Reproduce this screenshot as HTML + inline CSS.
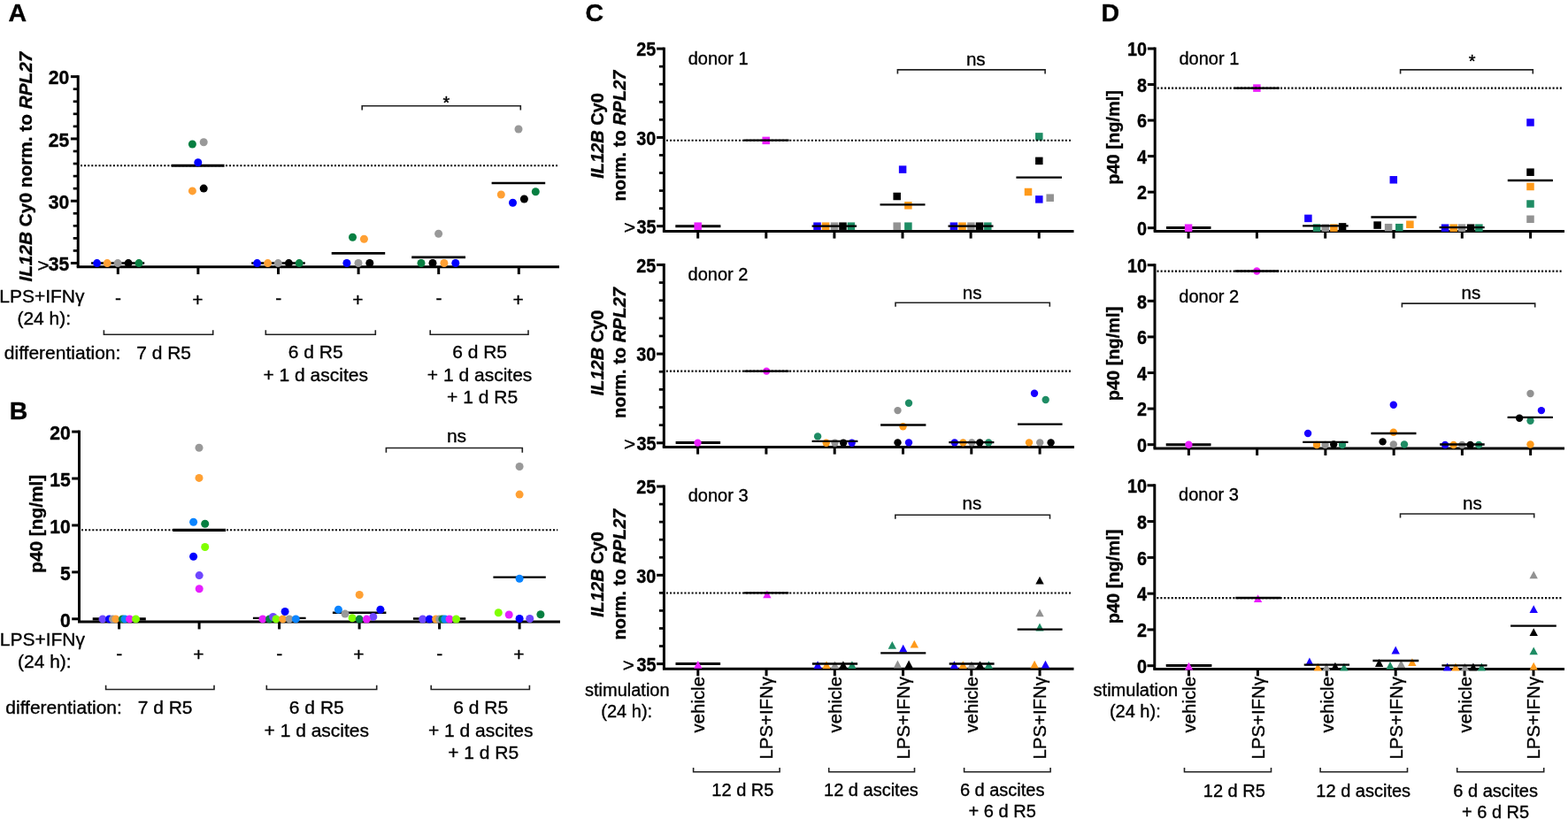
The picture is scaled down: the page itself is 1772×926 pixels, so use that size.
<!DOCTYPE html>
<html><head><meta charset="utf-8"><title>Figure</title>
<style>
html,body{margin:0;padding:0;background:#fff;}
body{width:1772px;height:926px;overflow:hidden;}
svg{display:block;font-family:"Liberation Sans", Arial, Helvetica, sans-serif;}
text{stroke:#000;stroke-width:0.35px;stroke-linejoin:round;}
</style></head>
<body>
<svg width="1772" height="926" viewBox="0 0 1772 926">
<rect width="1772" height="926" fill="#fff"/>
<text x="9.6" y="23.8" font-size="28.5" font-weight="bold">A</text>
<text x="10.8" y="474.2" font-size="28.5" font-weight="bold">B</text>
<text x="661.5" y="23.8" font-size="28.5" font-weight="bold">C</text>
<text x="1244.5" y="23.8" font-size="28.5" font-weight="bold">D</text>
<line x1="91" y1="187.3" x2="630" y2="187.3" stroke="#000" stroke-width="2.1" stroke-linecap="butt" stroke-dasharray="2 2.1"/>
<line x1="88.2" y1="85.15" x2="88.2" y2="301.7" stroke="#000" stroke-width="3" stroke-linecap="butt"/>
<line x1="79.9" y1="86.65" x2="88.2" y2="86.65" stroke="#000" stroke-width="3" stroke-linecap="butt"/>
<text font-size="20.5" transform="translate(78.3 95.35) scale(1.03 1.11)" font-weight="bold" text-anchor="end">20</text>
<line x1="79.9" y1="156.94" x2="88.2" y2="156.94" stroke="#000" stroke-width="3" stroke-linecap="butt"/>
<text font-size="20.5" transform="translate(78.3 165.63) scale(1.03 1.11)" font-weight="bold" text-anchor="end">25</text>
<line x1="79.9" y1="227.22" x2="88.2" y2="227.22" stroke="#000" stroke-width="3" stroke-linecap="butt"/>
<text font-size="20.5" transform="translate(78.3 235.92) scale(1.03 1.11)" font-weight="bold" text-anchor="end">30</text>
<line x1="79.9" y1="297.5" x2="88.2" y2="297.5" stroke="#000" stroke-width="3" stroke-linecap="butt"/>
<line x1="82.7" y1="100.71" x2="88.2" y2="100.71" stroke="#000" stroke-width="2.7" stroke-linecap="butt"/>
<line x1="82.7" y1="114.76" x2="88.2" y2="114.76" stroke="#000" stroke-width="2.7" stroke-linecap="butt"/>
<line x1="82.7" y1="128.82" x2="88.2" y2="128.82" stroke="#000" stroke-width="2.7" stroke-linecap="butt"/>
<line x1="82.7" y1="142.88" x2="88.2" y2="142.88" stroke="#000" stroke-width="2.7" stroke-linecap="butt"/>
<line x1="82.7" y1="170.99" x2="88.2" y2="170.99" stroke="#000" stroke-width="2.7" stroke-linecap="butt"/>
<line x1="82.7" y1="185.05" x2="88.2" y2="185.05" stroke="#000" stroke-width="2.7" stroke-linecap="butt"/>
<line x1="82.7" y1="199.11" x2="88.2" y2="199.11" stroke="#000" stroke-width="2.7" stroke-linecap="butt"/>
<line x1="82.7" y1="213.16" x2="88.2" y2="213.16" stroke="#000" stroke-width="2.7" stroke-linecap="butt"/>
<line x1="82.7" y1="241.28" x2="88.2" y2="241.28" stroke="#000" stroke-width="2.7" stroke-linecap="butt"/>
<line x1="82.7" y1="255.33" x2="88.2" y2="255.33" stroke="#000" stroke-width="2.7" stroke-linecap="butt"/>
<line x1="82.7" y1="269.39" x2="88.2" y2="269.39" stroke="#000" stroke-width="2.7" stroke-linecap="butt"/>
<line x1="82.7" y1="283.45" x2="88.2" y2="283.45" stroke="#000" stroke-width="2.7" stroke-linecap="butt"/>
<text font-size="20.5" transform="translate(78.3 306.2) scale(1.03 1.11)" font-weight="bold" text-anchor="end">35</text>
<text font-size="20.5" transform="translate(55.6 306.81) scale(1.12 1)" text-anchor="end">&gt;</text>
<line x1="86.7" y1="301.7" x2="632" y2="301.7" stroke="#000" stroke-width="3" stroke-linecap="butt"/>
<line x1="133.3" y1="301.7" x2="133.3" y2="310.1" stroke="#000" stroke-width="3" stroke-linecap="butt"/>
<line x1="223.9" y1="301.7" x2="223.9" y2="310.1" stroke="#000" stroke-width="3" stroke-linecap="butt"/>
<line x1="314.5" y1="301.7" x2="314.5" y2="310.1" stroke="#000" stroke-width="3" stroke-linecap="butt"/>
<line x1="405.1" y1="301.7" x2="405.1" y2="310.1" stroke="#000" stroke-width="3" stroke-linecap="butt"/>
<line x1="495.7" y1="301.7" x2="495.7" y2="310.1" stroke="#000" stroke-width="3" stroke-linecap="butt"/>
<line x1="586.3" y1="301.7" x2="586.3" y2="310.1" stroke="#000" stroke-width="3" stroke-linecap="butt"/>
<line x1="103.1" y1="297.5" x2="163.2" y2="297.5" stroke="#000" stroke-width="2.4" stroke-linecap="butt"/>
<circle cx="109.6" cy="297.6" r="4.5" fill="#0000ff"/>
<circle cx="121.2" cy="297.6" r="4.5" fill="#ffa033"/>
<circle cx="133.1" cy="297.6" r="4.5" fill="#999999"/>
<circle cx="145.1" cy="297.6" r="4.5" fill="#000000"/>
<circle cx="157" cy="297.6" r="4.5" fill="#067f41"/>
<line x1="193.7" y1="187.2" x2="253.6" y2="187.2" stroke="#000" stroke-width="3" stroke-linecap="butt"/>
<circle cx="217.4" cy="163" r="4.5" fill="#067f41"/>
<circle cx="230.2" cy="160.8" r="4.5" fill="#999999"/>
<circle cx="223.8" cy="183.8" r="4.5" fill="#0000ff"/>
<circle cx="217.4" cy="215.9" r="4.5" fill="#ffa033"/>
<circle cx="230.2" cy="213.1" r="4.5" fill="#000000"/>
<line x1="284.2" y1="297.5" x2="344.8" y2="297.5" stroke="#000" stroke-width="2.4" stroke-linecap="butt"/>
<circle cx="290.6" cy="297.6" r="4.5" fill="#0000ff"/>
<circle cx="302.6" cy="297.6" r="4.5" fill="#ffa033"/>
<circle cx="314.3" cy="297.6" r="4.5" fill="#999999"/>
<circle cx="326.4" cy="297.6" r="4.5" fill="#000000"/>
<circle cx="338.2" cy="297.6" r="4.5" fill="#067f41"/>
<line x1="374.7" y1="286.4" x2="435.2" y2="286.4" stroke="#000" stroke-width="2.6" stroke-linecap="butt"/>
<circle cx="398.5" cy="268.3" r="4.5" fill="#067f41"/>
<circle cx="411.4" cy="270.3" r="4.5" fill="#ffa033"/>
<circle cx="391.9" cy="297.5" r="4.5" fill="#0000ff"/>
<circle cx="405" cy="297.5" r="4.5" fill="#999999"/>
<circle cx="417.8" cy="297.5" r="4.5" fill="#000000"/>
<line x1="465.2" y1="290.9" x2="526" y2="290.9" stroke="#000" stroke-width="2.6" stroke-linecap="butt"/>
<circle cx="495.6" cy="264.2" r="4.5" fill="#999999"/>
<circle cx="476" cy="297.5" r="4.5" fill="#067f41"/>
<circle cx="489" cy="297.5" r="4.5" fill="#000000"/>
<circle cx="501.9" cy="297.5" r="4.5" fill="#ffa033"/>
<circle cx="514.8" cy="297.5" r="4.5" fill="#0000ff"/>
<line x1="555.6" y1="207" x2="616.2" y2="207" stroke="#000" stroke-width="2.6" stroke-linecap="butt"/>
<circle cx="586" cy="146" r="4.5" fill="#999999"/>
<circle cx="566.3" cy="220" r="4.5" fill="#ffa033"/>
<circle cx="579.5" cy="229.3" r="4.5" fill="#0000ff"/>
<circle cx="592.4" cy="225" r="4.5" fill="#000000"/>
<circle cx="605.3" cy="216.8" r="4.5" fill="#067f41"/>
<text font-size="20.8" transform="translate(36 188.6) rotate(-90)" font-weight="bold" text-anchor="middle"><tspan font-style="italic">IL12B</tspan> Cy0 norm. to <tspan font-style="italic">RPL27</tspan></text>
<polyline points="409.2,124.5 409.2,119.7 588.3,119.7 588.3,124.5" fill="none" stroke="#222" stroke-width="1.6"/>
<text x="504.4" y="123.2" font-size="20" text-anchor="middle">*</text>
<text x="-0.8" y="341.6" font-size="21" >LPS+IFNγ</text>
<text x="19.4" y="366.9" font-size="21" >(24 h):</text>
<text x="133.5" y="343.9" font-size="21" text-anchor="middle">-</text>
<text x="223.3" y="345.9" font-size="21" text-anchor="middle">+</text>
<text x="314.7" y="343.9" font-size="21" text-anchor="middle">-</text>
<text x="404.5" y="345.9" font-size="21" text-anchor="middle">+</text>
<text x="495.9" y="343.9" font-size="21" text-anchor="middle">-</text>
<text x="585.7" y="345.9" font-size="21" text-anchor="middle">+</text>
<polyline points="117.4,373.3 117.4,378.3 240.7,378.3 240.7,373.3" fill="none" stroke="#222" stroke-width="1.6"/>
<polyline points="300.3,373.3 300.3,378.3 424.3,378.3 424.3,373.3" fill="none" stroke="#222" stroke-width="1.6"/>
<polyline points="486.2,373.3 486.2,378.3 597,378.3 597,373.3" fill="none" stroke="#222" stroke-width="1.6"/>
<text x="4.8" y="405.6" font-size="21" >differentiation:</text>
<text x="185.1" y="405.6" font-size="21" text-anchor="middle">7 d R5</text>
<text x="356.7" y="405.4" font-size="21" text-anchor="middle">6 d R5</text>
<text x="356.7" y="431" font-size="21" text-anchor="middle">+ 1 d ascites</text>
<text x="542.1" y="405.4" font-size="21" text-anchor="middle">6 d R5</text>
<text x="542.1" y="431" font-size="21" text-anchor="middle">+ 1 d ascites</text>
<text x="545.1" y="456.4" font-size="21" text-anchor="middle">+ 1 d R5</text>
<line x1="92" y1="599.2" x2="630.3" y2="599.2" stroke="#000" stroke-width="2.1" stroke-linecap="butt" stroke-dasharray="2 2.1"/>
<line x1="89.5" y1="486.6" x2="89.5" y2="703" stroke="#000" stroke-width="3" stroke-linecap="butt"/>
<line x1="81.2" y1="488.1" x2="89.5" y2="488.1" stroke="#000" stroke-width="3" stroke-linecap="butt"/>
<text font-size="20.5" transform="translate(79.8 496.8) scale(1.03 1.11)" font-weight="bold" text-anchor="end">20</text>
<line x1="81.2" y1="541.02" x2="89.5" y2="541.02" stroke="#000" stroke-width="3" stroke-linecap="butt"/>
<text font-size="20.5" transform="translate(79.8 549.73) scale(1.03 1.11)" font-weight="bold" text-anchor="end">15</text>
<line x1="81.2" y1="593.95" x2="89.5" y2="593.95" stroke="#000" stroke-width="3" stroke-linecap="butt"/>
<text font-size="20.5" transform="translate(79.8 602.65) scale(1.03 1.11)" font-weight="bold" text-anchor="end">10</text>
<line x1="81.2" y1="646.88" x2="89.5" y2="646.88" stroke="#000" stroke-width="3" stroke-linecap="butt"/>
<text font-size="20.5" transform="translate(79.8 655.58) scale(1.03 1.11)" font-weight="bold" text-anchor="end">5</text>
<line x1="81.2" y1="699.8" x2="89.5" y2="699.8" stroke="#000" stroke-width="3" stroke-linecap="butt"/>
<text font-size="20.5" transform="translate(79.8 708.5) scale(1.03 1.11)" font-weight="bold" text-anchor="end">0</text>
<line x1="88" y1="703" x2="633" y2="703" stroke="#000" stroke-width="3" stroke-linecap="butt"/>
<line x1="134.6" y1="703" x2="134.6" y2="711.4" stroke="#000" stroke-width="3" stroke-linecap="butt"/>
<line x1="225.1" y1="703" x2="225.1" y2="711.4" stroke="#000" stroke-width="3" stroke-linecap="butt"/>
<line x1="315.6" y1="703" x2="315.6" y2="711.4" stroke="#000" stroke-width="3" stroke-linecap="butt"/>
<line x1="406.1" y1="703" x2="406.1" y2="711.4" stroke="#000" stroke-width="3" stroke-linecap="butt"/>
<line x1="496.6" y1="703" x2="496.6" y2="711.4" stroke="#000" stroke-width="3" stroke-linecap="butt"/>
<line x1="587.1" y1="703" x2="587.1" y2="711.4" stroke="#000" stroke-width="3" stroke-linecap="butt"/>
<line x1="104.7" y1="699.9" x2="164.8" y2="699.9" stroke="#000" stroke-width="3.2" stroke-linecap="butt"/>
<circle cx="116" cy="699.9" r="4.5" fill="#6e46ff"/>
<circle cx="123.5" cy="699.9" r="4.5" fill="#0000ff"/>
<circle cx="127.4" cy="699.9" r="4.5" fill="#999999"/>
<circle cx="130.8" cy="699.9" r="4.5" fill="#ffa033"/>
<circle cx="138.4" cy="699.9" r="4.5" fill="#067f41"/>
<circle cx="141.1" cy="699.9" r="4.5" fill="#0a84ff"/>
<circle cx="146.5" cy="699.9" r="4.5" fill="#e61eff"/>
<circle cx="153.5" cy="699.9" r="4.5" fill="#80ff00"/>
<line x1="195.3" y1="599.3" x2="255.1" y2="599.3" stroke="#000" stroke-width="3.2" stroke-linecap="butt"/>
<circle cx="225" cy="506.3" r="4.5" fill="#999999"/>
<circle cx="225" cy="540.4" r="4.5" fill="#ffa033"/>
<circle cx="218.6" cy="590.3" r="4.5" fill="#0a84ff"/>
<circle cx="231.7" cy="592.3" r="4.5" fill="#067f41"/>
<circle cx="231.7" cy="618.5" r="4.5" fill="#80ff00"/>
<circle cx="218.6" cy="629.2" r="4.5" fill="#0000ff"/>
<circle cx="225.2" cy="650.6" r="4.5" fill="#6e46ff"/>
<circle cx="225.2" cy="665.8" r="4.5" fill="#e61eff"/>
<line x1="285.9" y1="698.9" x2="345.6" y2="698.9" stroke="#000" stroke-width="2.4" stroke-linecap="butt"/>
<circle cx="296.9" cy="699.9" r="4.5" fill="#e61eff"/>
<circle cx="304.5" cy="699.9" r="4.5" fill="#067f41"/>
<circle cx="308.6" cy="697.5" r="4.5" fill="#6e46ff"/>
<circle cx="312" cy="699.9" r="4.5" fill="#80ff00"/>
<circle cx="319.6" cy="699.9" r="4.5" fill="#ffa033"/>
<circle cx="327" cy="699.9" r="4.5" fill="#999999"/>
<circle cx="334.3" cy="699.9" r="4.5" fill="#0a84ff"/>
<circle cx="322.1" cy="691.5" r="4.5" fill="#0000ff"/>
<line x1="375.9" y1="692.8" x2="436.4" y2="692.8" stroke="#000" stroke-width="2.4" stroke-linecap="butt"/>
<circle cx="406.2" cy="672.5" r="4.5" fill="#ffa033"/>
<circle cx="382.4" cy="689.3" r="4.5" fill="#0a84ff"/>
<circle cx="390" cy="694.1" r="4.5" fill="#999999"/>
<circle cx="429.9" cy="689.3" r="4.5" fill="#0000ff"/>
<circle cx="421.8" cy="697.4" r="4.5" fill="#6e46ff"/>
<circle cx="398.1" cy="698.7" r="4.5" fill="#80ff00"/>
<circle cx="406.2" cy="700.1" r="4.5" fill="#067f41"/>
<circle cx="414.3" cy="700.1" r="4.5" fill="#e61eff"/>
<line x1="466.9" y1="699.5" x2="526.3" y2="699.5" stroke="#000" stroke-width="2.4" stroke-linecap="butt"/>
<circle cx="477.7" cy="700" r="4.5" fill="#6e46ff"/>
<circle cx="485.3" cy="700" r="4.5" fill="#0000ff"/>
<circle cx="492.6" cy="700" r="4.5" fill="#ffa033"/>
<circle cx="496.6" cy="700" r="4.5" fill="#999999"/>
<circle cx="499.9" cy="700" r="4.5" fill="#067f41"/>
<circle cx="502.8" cy="700" r="4.5" fill="#0a84ff"/>
<circle cx="508" cy="700" r="4.5" fill="#e61eff"/>
<circle cx="515.5" cy="700" r="4.5" fill="#80ff00"/>
<line x1="557.4" y1="652.6" x2="616.8" y2="652.6" stroke="#000" stroke-width="2.4" stroke-linecap="butt"/>
<circle cx="587.1" cy="527.5" r="4.5" fill="#999999"/>
<circle cx="587.1" cy="559.1" r="4.5" fill="#ffa033"/>
<circle cx="587.1" cy="654.2" r="4.5" fill="#0a84ff"/>
<circle cx="563.3" cy="692.8" r="4.5" fill="#80ff00"/>
<circle cx="575.2" cy="695" r="4.5" fill="#e61eff"/>
<circle cx="587.1" cy="699.5" r="4.5" fill="#0000ff"/>
<circle cx="598.7" cy="699.5" r="4.5" fill="#6e46ff"/>
<circle cx="610.9" cy="694.7" r="4.5" fill="#067f41"/>
<text font-size="20.8" transform="translate(47.5 592.3) rotate(-90)" font-weight="bold" text-anchor="middle">p40 [ng/ml]</text>
<polyline points="436.4,511.7 436.4,506.5 590.3,506.5 590.3,511.7" fill="none" stroke="#222" stroke-width="1.6"/>
<text x="516" y="499.7" font-size="21" text-anchor="middle">ns</text>
<text x="-0.3" y="729.5" font-size="21" >LPS+IFNγ</text>
<text x="20" y="754.8" font-size="21" >(24 h):</text>
<text x="134.8" y="745.8" font-size="21" text-anchor="middle">-</text>
<text x="224.5" y="747.4" font-size="21" text-anchor="middle">+</text>
<text x="315.8" y="745.8" font-size="21" text-anchor="middle">-</text>
<text x="405.5" y="747.4" font-size="21" text-anchor="middle">+</text>
<text x="496.8" y="745.8" font-size="21" text-anchor="middle">-</text>
<text x="586.5" y="747.4" font-size="21" text-anchor="middle">+</text>
<polyline points="119.6,774.7 119.6,779.5 242,779.5 242,774.7" fill="none" stroke="#222" stroke-width="1.6"/>
<polyline points="301.3,774.7 301.3,779.5 425.7,779.5 425.7,774.7" fill="none" stroke="#222" stroke-width="1.6"/>
<polyline points="487.2,774.7 487.2,779.5 598.4,779.5 598.4,774.7" fill="none" stroke="#222" stroke-width="1.6"/>
<text x="6.3" y="806.5" font-size="21" >differentiation:</text>
<text x="186.6" y="806.5" font-size="21" text-anchor="middle">7 d R5</text>
<text x="357.8" y="806.7" font-size="21" text-anchor="middle">6 d R5</text>
<text x="357.8" y="832.5" font-size="21" text-anchor="middle">+ 1 d ascites</text>
<text x="543.2" y="806.7" font-size="21" text-anchor="middle">6 d R5</text>
<text x="543.2" y="832.5" font-size="21" text-anchor="middle">+ 1 d ascites</text>
<text x="546.2" y="857.5" font-size="21" text-anchor="middle">+ 1 d R5</text>
<line x1="750.4" y1="53.6" x2="750.4" y2="261.6" stroke="#000" stroke-width="3" stroke-linecap="butt"/>
<line x1="742.1" y1="55.1" x2="750.4" y2="55.1" stroke="#000" stroke-width="3" stroke-linecap="butt"/>
<text font-size="20" transform="translate(741.2 63.4) scale(0.99 1.08)" font-weight="bold" text-anchor="end">25</text>
<line x1="742.1" y1="155.4" x2="750.4" y2="155.4" stroke="#000" stroke-width="3" stroke-linecap="butt"/>
<text font-size="20" transform="translate(741.2 163.7) scale(0.99 1.08)" font-weight="bold" text-anchor="end">30</text>
<line x1="742.1" y1="255.7" x2="750.4" y2="255.7" stroke="#000" stroke-width="3" stroke-linecap="butt"/>
<line x1="744.9" y1="75.16" x2="750.4" y2="75.16" stroke="#000" stroke-width="2.7" stroke-linecap="butt"/>
<line x1="744.9" y1="95.22" x2="750.4" y2="95.22" stroke="#000" stroke-width="2.7" stroke-linecap="butt"/>
<line x1="744.9" y1="115.28" x2="750.4" y2="115.28" stroke="#000" stroke-width="2.7" stroke-linecap="butt"/>
<line x1="744.9" y1="135.34" x2="750.4" y2="135.34" stroke="#000" stroke-width="2.7" stroke-linecap="butt"/>
<line x1="744.9" y1="175.46" x2="750.4" y2="175.46" stroke="#000" stroke-width="2.7" stroke-linecap="butt"/>
<line x1="744.9" y1="195.52" x2="750.4" y2="195.52" stroke="#000" stroke-width="2.7" stroke-linecap="butt"/>
<line x1="744.9" y1="215.58" x2="750.4" y2="215.58" stroke="#000" stroke-width="2.7" stroke-linecap="butt"/>
<line x1="744.9" y1="235.64" x2="750.4" y2="235.64" stroke="#000" stroke-width="2.7" stroke-linecap="butt"/>
<line x1="748.9" y1="261.6" x2="1213.5" y2="261.6" stroke="#000" stroke-width="3" stroke-linecap="butt"/>
<line x1="788.7" y1="261.6" x2="788.7" y2="269.6" stroke="#000" stroke-width="3" stroke-linecap="butt"/>
<line x1="865.8" y1="261.6" x2="865.8" y2="269.6" stroke="#000" stroke-width="3" stroke-linecap="butt"/>
<line x1="942.9" y1="261.6" x2="942.9" y2="269.6" stroke="#000" stroke-width="3" stroke-linecap="butt"/>
<line x1="1020" y1="261.6" x2="1020" y2="269.6" stroke="#000" stroke-width="3" stroke-linecap="butt"/>
<line x1="1097.1" y1="261.6" x2="1097.1" y2="269.6" stroke="#000" stroke-width="3" stroke-linecap="butt"/>
<line x1="1174.2" y1="261.6" x2="1174.2" y2="269.6" stroke="#000" stroke-width="3" stroke-linecap="butt"/>
<rect x="861.45" y="154.65" width="8.5" height="8.5" fill="#ea1eff"/>
<rect x="919.25" y="251.45" width="8.5" height="8.5" fill="#1a00ff"/>
<rect x="928.85" y="251.45" width="8.5" height="8.5" fill="#ff9a1a"/>
<rect x="938.75" y="251.45" width="8.5" height="8.5" fill="#929292"/>
<rect x="948.25" y="251.45" width="8.5" height="8.5" fill="#000000"/>
<rect x="957.65" y="251.45" width="8.5" height="8.5" fill="#1e8c64"/>
<rect x="1015.85" y="187.35" width="8.5" height="8.5" fill="#1a00ff"/>
<rect x="1009.45" y="217.75" width="8.5" height="8.5" fill="#000000"/>
<rect x="1022.15" y="228.05" width="8.5" height="8.5" fill="#ff9a1a"/>
<rect x="1009.45" y="251.45" width="8.5" height="8.5" fill="#929292"/>
<rect x="1022.15" y="251.45" width="8.5" height="8.5" fill="#1e8c64"/>
<rect x="1073.65" y="251.45" width="8.5" height="8.5" fill="#1a00ff"/>
<rect x="1083.25" y="251.45" width="8.5" height="8.5" fill="#ff9a1a"/>
<rect x="1093.15" y="251.45" width="8.5" height="8.5" fill="#929292"/>
<rect x="1102.75" y="251.45" width="8.5" height="8.5" fill="#000000"/>
<rect x="1112.05" y="251.45" width="8.5" height="8.5" fill="#1e8c64"/>
<rect x="1170.05" y="150.15" width="8.5" height="8.5" fill="#1e8c64"/>
<rect x="1170.05" y="177.65" width="8.5" height="8.5" fill="#000000"/>
<rect x="1157.75" y="212.75" width="8.5" height="8.5" fill="#ff9a1a"/>
<rect x="1170.05" y="221.15" width="8.5" height="8.5" fill="#1a00ff"/>
<rect x="1182.45" y="219.45" width="8.5" height="8.5" fill="#929292"/>
<line x1="752.9" y1="158.8" x2="1211.5" y2="158.8" stroke="#000" stroke-width="2.1" stroke-linecap="butt" stroke-dasharray="2 2.1"/>
<line x1="763.3" y1="255.7" x2="814.4" y2="255.7" stroke="#000" stroke-width="3" stroke-linecap="butt"/>
<line x1="840.6" y1="158.7" x2="891.6" y2="158.7" stroke="#000" stroke-width="2.3" stroke-linecap="butt"/>
<line x1="917.6" y1="255.7" x2="968.1" y2="255.7" stroke="#000" stroke-width="2.3" stroke-linecap="butt"/>
<line x1="994.5" y1="231.3" x2="1045.5" y2="231.3" stroke="#000" stroke-width="2.3" stroke-linecap="butt"/>
<line x1="1071.5" y1="255.7" x2="1122.5" y2="255.7" stroke="#000" stroke-width="2.3" stroke-linecap="butt"/>
<line x1="1148.4" y1="200.7" x2="1200" y2="200.7" stroke="#000" stroke-width="2.3" stroke-linecap="butt"/>
<rect x="784.45" y="251.45" width="8.5" height="8.5" fill="#ea1eff"/>
<text x="777.7" y="72.5" font-size="20" >donor 1</text>
<polyline points="1014.4,83.4 1014.4,78.9 1181.1,78.9 1181.1,83.4" fill="none" stroke="#222" stroke-width="1.6"/>
<text x="1102.8" y="74.2" font-size="20.6" text-anchor="middle">ns</text>
<text font-size="20" transform="translate(741.6 264) scale(0.99 1.08)" font-weight="bold" text-anchor="end">35</text>
<text font-size="20" transform="translate(718.3 263.6) scale(1.13 1)" text-anchor="end">&gt;</text>
<line x1="750.3" y1="297.9" x2="750.3" y2="505.6" stroke="#000" stroke-width="3" stroke-linecap="butt"/>
<line x1="742" y1="299.4" x2="750.3" y2="299.4" stroke="#000" stroke-width="3" stroke-linecap="butt"/>
<text font-size="20" transform="translate(741.2 307.7) scale(0.99 1.08)" font-weight="bold" text-anchor="end">25</text>
<line x1="742" y1="400.1" x2="750.3" y2="400.1" stroke="#000" stroke-width="3" stroke-linecap="butt"/>
<text font-size="20" transform="translate(741.2 408.4) scale(0.99 1.08)" font-weight="bold" text-anchor="end">30</text>
<line x1="742" y1="500.8" x2="750.3" y2="500.8" stroke="#000" stroke-width="3" stroke-linecap="butt"/>
<line x1="744.8" y1="319.54" x2="750.3" y2="319.54" stroke="#000" stroke-width="2.7" stroke-linecap="butt"/>
<line x1="744.8" y1="339.68" x2="750.3" y2="339.68" stroke="#000" stroke-width="2.7" stroke-linecap="butt"/>
<line x1="744.8" y1="359.82" x2="750.3" y2="359.82" stroke="#000" stroke-width="2.7" stroke-linecap="butt"/>
<line x1="744.8" y1="379.96" x2="750.3" y2="379.96" stroke="#000" stroke-width="2.7" stroke-linecap="butt"/>
<line x1="744.8" y1="420.24" x2="750.3" y2="420.24" stroke="#000" stroke-width="2.7" stroke-linecap="butt"/>
<line x1="744.8" y1="440.38" x2="750.3" y2="440.38" stroke="#000" stroke-width="2.7" stroke-linecap="butt"/>
<line x1="744.8" y1="460.52" x2="750.3" y2="460.52" stroke="#000" stroke-width="2.7" stroke-linecap="butt"/>
<line x1="744.8" y1="480.66" x2="750.3" y2="480.66" stroke="#000" stroke-width="2.7" stroke-linecap="butt"/>
<line x1="748.8" y1="505.6" x2="1214" y2="505.6" stroke="#000" stroke-width="3" stroke-linecap="butt"/>
<line x1="788.6" y1="505.6" x2="788.6" y2="513.6" stroke="#000" stroke-width="3" stroke-linecap="butt"/>
<line x1="865.9" y1="505.6" x2="865.9" y2="513.6" stroke="#000" stroke-width="3" stroke-linecap="butt"/>
<line x1="943.2" y1="505.6" x2="943.2" y2="513.6" stroke="#000" stroke-width="3" stroke-linecap="butt"/>
<line x1="1020.5" y1="505.6" x2="1020.5" y2="513.6" stroke="#000" stroke-width="3" stroke-linecap="butt"/>
<line x1="1097.8" y1="505.6" x2="1097.8" y2="513.6" stroke="#000" stroke-width="3" stroke-linecap="butt"/>
<line x1="1175.1" y1="505.6" x2="1175.1" y2="513.6" stroke="#000" stroke-width="3" stroke-linecap="butt"/>
<circle cx="866.2" cy="419.6" r="4.2" fill="#ea1eff"/>
<circle cx="924.1" cy="493.4" r="4.2" fill="#1e8c64"/>
<circle cx="933.7" cy="500.7" r="4.2" fill="#ff9a1a"/>
<circle cx="943.5" cy="500.7" r="4.2" fill="#929292"/>
<circle cx="953.1" cy="500.7" r="4.2" fill="#000000"/>
<circle cx="962.7" cy="500.7" r="4.2" fill="#1a00ff"/>
<circle cx="1027" cy="455.8" r="4.2" fill="#1e8c64"/>
<circle cx="1014.5" cy="464.1" r="4.2" fill="#929292"/>
<circle cx="1020.5" cy="482.3" r="4.2" fill="#ff9a1a"/>
<circle cx="1014.5" cy="500.4" r="4.2" fill="#000000"/>
<circle cx="1027" cy="500.4" r="4.2" fill="#1a00ff"/>
<circle cx="1078.8" cy="500.4" r="4.2" fill="#1a00ff"/>
<circle cx="1088.4" cy="500.4" r="4.2" fill="#ff9a1a"/>
<circle cx="1098.2" cy="500.4" r="4.2" fill="#929292"/>
<circle cx="1107.3" cy="500.4" r="4.2" fill="#000000"/>
<circle cx="1117.2" cy="500.4" r="4.2" fill="#1e8c64"/>
<circle cx="1169" cy="444.7" r="4.2" fill="#1a00ff"/>
<circle cx="1181.7" cy="452" r="4.2" fill="#1e8c64"/>
<circle cx="1163" cy="500.4" r="4.2" fill="#ff9a1a"/>
<circle cx="1175.2" cy="500.4" r="4.2" fill="#929292"/>
<circle cx="1187.6" cy="500.4" r="4.2" fill="#000000"/>
<line x1="752.8" y1="419.6" x2="1212" y2="419.6" stroke="#000" stroke-width="2.1" stroke-linecap="butt" stroke-dasharray="2 2.1"/>
<line x1="763.6" y1="500.6" x2="814.1" y2="500.6" stroke="#000" stroke-width="3" stroke-linecap="butt"/>
<line x1="841.1" y1="419.6" x2="891.6" y2="419.6" stroke="#000" stroke-width="2.3" stroke-linecap="butt"/>
<line x1="917.6" y1="498.9" x2="969.4" y2="498.9" stroke="#000" stroke-width="2.3" stroke-linecap="butt"/>
<line x1="995.1" y1="480.5" x2="1046.4" y2="480.5" stroke="#000" stroke-width="2.3" stroke-linecap="butt"/>
<line x1="1072.3" y1="500.2" x2="1123.4" y2="500.2" stroke="#000" stroke-width="2.3" stroke-linecap="butt"/>
<line x1="1150" y1="479.7" x2="1200.6" y2="479.7" stroke="#000" stroke-width="2.3" stroke-linecap="butt"/>
<circle cx="788.5" cy="500.6" r="4.2" fill="#ea1eff"/>
<text x="777.6" y="316.6" font-size="20" >donor 2</text>
<polyline points="1012,346.8 1012,342.3 1186.3,342.3 1186.3,346.8" fill="none" stroke="#222" stroke-width="1.6"/>
<text x="1098.6" y="338.2" font-size="20.6" text-anchor="middle">ns</text>
<text font-size="20" transform="translate(741.6 509.1) scale(0.99 1.08)" font-weight="bold" text-anchor="end">35</text>
<text font-size="20" transform="translate(718.3 508.7) scale(1.13 1)" text-anchor="end">&gt;</text>
<line x1="750.4" y1="548.5" x2="750.4" y2="756.3" stroke="#000" stroke-width="3" stroke-linecap="butt"/>
<line x1="742.1" y1="550" x2="750.4" y2="550" stroke="#000" stroke-width="3" stroke-linecap="butt"/>
<text font-size="20" transform="translate(741.2 558.3) scale(0.99 1.08)" font-weight="bold" text-anchor="end">25</text>
<line x1="742.1" y1="650.3" x2="750.4" y2="650.3" stroke="#000" stroke-width="3" stroke-linecap="butt"/>
<text font-size="20" transform="translate(741.2 658.6) scale(0.99 1.08)" font-weight="bold" text-anchor="end">30</text>
<line x1="742.1" y1="750.6" x2="750.4" y2="750.6" stroke="#000" stroke-width="3" stroke-linecap="butt"/>
<line x1="744.9" y1="570.06" x2="750.4" y2="570.06" stroke="#000" stroke-width="2.7" stroke-linecap="butt"/>
<line x1="744.9" y1="590.12" x2="750.4" y2="590.12" stroke="#000" stroke-width="2.7" stroke-linecap="butt"/>
<line x1="744.9" y1="610.18" x2="750.4" y2="610.18" stroke="#000" stroke-width="2.7" stroke-linecap="butt"/>
<line x1="744.9" y1="630.24" x2="750.4" y2="630.24" stroke="#000" stroke-width="2.7" stroke-linecap="butt"/>
<line x1="744.9" y1="670.36" x2="750.4" y2="670.36" stroke="#000" stroke-width="2.7" stroke-linecap="butt"/>
<line x1="744.9" y1="690.42" x2="750.4" y2="690.42" stroke="#000" stroke-width="2.7" stroke-linecap="butt"/>
<line x1="744.9" y1="710.48" x2="750.4" y2="710.48" stroke="#000" stroke-width="2.7" stroke-linecap="butt"/>
<line x1="744.9" y1="730.54" x2="750.4" y2="730.54" stroke="#000" stroke-width="2.7" stroke-linecap="butt"/>
<line x1="748.9" y1="756.3" x2="1213.5" y2="756.3" stroke="#000" stroke-width="3" stroke-linecap="butt"/>
<line x1="788.8" y1="756.3" x2="788.8" y2="764.3" stroke="#000" stroke-width="3" stroke-linecap="butt"/>
<line x1="866.05" y1="756.3" x2="866.05" y2="764.3" stroke="#000" stroke-width="3" stroke-linecap="butt"/>
<line x1="943.3" y1="756.3" x2="943.3" y2="764.3" stroke="#000" stroke-width="3" stroke-linecap="butt"/>
<line x1="1020.55" y1="756.3" x2="1020.55" y2="764.3" stroke="#000" stroke-width="3" stroke-linecap="butt"/>
<line x1="1097.8" y1="756.3" x2="1097.8" y2="764.3" stroke="#000" stroke-width="3" stroke-linecap="butt"/>
<line x1="1175.05" y1="756.3" x2="1175.05" y2="764.3" stroke="#000" stroke-width="3" stroke-linecap="butt"/>
<polygon points="866.9,667.4 871.6,676.2 862.2,676.2" fill="#ea1eff"/>
<polygon points="924.1,747.3 928.8,756.1 919.4,756.1" fill="#1a00ff"/>
<polygon points="934,747.3 938.7,756.1 929.3,756.1" fill="#ff9a1a"/>
<polygon points="943.5,747.3 948.2,756.1 938.8,756.1" fill="#929292"/>
<polygon points="952.9,747.3 957.6,756.1 948.2,756.1" fill="#000000"/>
<polygon points="962.9,747.3 967.6,756.1 958.2,756.1" fill="#1e8c64"/>
<polygon points="1008.3,724.9 1013,733.7 1003.6,733.7" fill="#1e8c64"/>
<polygon points="1020.7,728.7 1025.4,737.5 1016,737.5" fill="#1a00ff"/>
<polygon points="1033.3,723.8 1038,732.6 1028.6,732.6" fill="#ff9a1a"/>
<polygon points="1014.4,746.6 1019.1,755.4 1009.7,755.4" fill="#929292"/>
<polygon points="1027.1,746.6 1031.8,755.4 1022.4,755.4" fill="#000000"/>
<polygon points="1078.4,747.3 1083.1,756.1 1073.7,756.1" fill="#1a00ff"/>
<polygon points="1088.3,747.3 1093,756.1 1083.6,756.1" fill="#ff9a1a"/>
<polygon points="1098,747.3 1102.7,756.1 1093.3,756.1" fill="#929292"/>
<polygon points="1107.5,747.3 1112.2,756.1 1102.8,756.1" fill="#000000"/>
<polygon points="1117.4,747.3 1122.1,756.1 1112.7,756.1" fill="#1e8c64"/>
<polygon points="1175,651.7 1179.7,660.5 1170.3,660.5" fill="#000000"/>
<polygon points="1175,688.5 1179.7,697.3 1170.3,697.3" fill="#929292"/>
<polygon points="1175,704.6 1179.7,713.4 1170.3,713.4" fill="#1e8c64"/>
<polygon points="1169.1,746.8 1173.8,755.6 1164.4,755.6" fill="#ff9a1a"/>
<polygon points="1181.5,746.8 1186.2,755.6 1176.8,755.6" fill="#1a00ff"/>
<line x1="752.9" y1="670.5" x2="1211.5" y2="670.5" stroke="#000" stroke-width="2.1" stroke-linecap="butt" stroke-dasharray="2 2.1"/>
<line x1="763.5" y1="750.4" x2="814.1" y2="750.4" stroke="#000" stroke-width="3" stroke-linecap="butt"/>
<line x1="840.8" y1="670.4" x2="891.3" y2="670.4" stroke="#000" stroke-width="2.3" stroke-linecap="butt"/>
<line x1="917.9" y1="750.5" x2="969.1" y2="750.5" stroke="#000" stroke-width="2.3" stroke-linecap="butt"/>
<line x1="995.2" y1="738.4" x2="1046.3" y2="738.4" stroke="#000" stroke-width="2.3" stroke-linecap="butt"/>
<line x1="1072.7" y1="750.5" x2="1123.6" y2="750.5" stroke="#000" stroke-width="2.3" stroke-linecap="butt"/>
<line x1="1149.7" y1="711.7" x2="1200.6" y2="711.7" stroke="#000" stroke-width="2.3" stroke-linecap="butt"/>
<polygon points="788.8,746.9 793.5,755.7 784.1,755.7" fill="#ea1eff"/>
<text x="777.7" y="567.3" font-size="20" >donor 3</text>
<polyline points="1011.8,586.8 1011.8,582.3 1186.5,582.3 1186.5,586.8" fill="none" stroke="#222" stroke-width="1.6"/>
<text x="1098.4" y="576.4" font-size="20.6" text-anchor="middle">ns</text>
<text font-size="20" transform="translate(741.6 758.9) scale(0.99 1.08)" font-weight="bold" text-anchor="end">35</text>
<text font-size="20" transform="translate(717 758.5) scale(1.13 1)" text-anchor="end">&gt;</text>
<text font-size="20" transform="translate(682 153.5) rotate(-90)" font-weight="bold" text-anchor="middle"><tspan font-style="italic">IL12B</tspan> Cy0</text>
<text font-size="20" transform="translate(706.5 153.5) rotate(-90)" font-weight="bold" text-anchor="middle">norm. to <tspan font-style="italic">RPL27</tspan></text>
<text font-size="20" transform="translate(682 399) rotate(-90)" font-weight="bold" text-anchor="middle"><tspan font-style="italic">IL12B</tspan> Cy0</text>
<text font-size="20" transform="translate(706.5 399) rotate(-90)" font-weight="bold" text-anchor="middle">norm. to <tspan font-style="italic">RPL27</tspan></text>
<text font-size="20" transform="translate(682 649.5) rotate(-90)" font-weight="bold" text-anchor="middle"><tspan font-style="italic">IL12B</tspan> Cy0</text>
<text font-size="20" transform="translate(706.5 649.5) rotate(-90)" font-weight="bold" text-anchor="middle">norm. to <tspan font-style="italic">RPL27</tspan></text>
<line x1="1305.2" y1="53.5" x2="1305.2" y2="261.6" stroke="#000" stroke-width="3" stroke-linecap="butt"/>
<line x1="1296.9" y1="55" x2="1305.2" y2="55" stroke="#000" stroke-width="3" stroke-linecap="butt"/>
<text font-size="20" transform="translate(1296 63.3) scale(0.99 1.08)" font-weight="bold" text-anchor="end">10</text>
<line x1="1296.9" y1="95.54" x2="1305.2" y2="95.54" stroke="#000" stroke-width="3" stroke-linecap="butt"/>
<text font-size="20" transform="translate(1296 103.84) scale(0.99 1.08)" font-weight="bold" text-anchor="end">8</text>
<line x1="1296.9" y1="136.08" x2="1305.2" y2="136.08" stroke="#000" stroke-width="3" stroke-linecap="butt"/>
<text font-size="20" transform="translate(1296 144.38) scale(0.99 1.08)" font-weight="bold" text-anchor="end">6</text>
<line x1="1296.9" y1="176.62" x2="1305.2" y2="176.62" stroke="#000" stroke-width="3" stroke-linecap="butt"/>
<text font-size="20" transform="translate(1296 184.92) scale(0.99 1.08)" font-weight="bold" text-anchor="end">4</text>
<line x1="1296.9" y1="217.16" x2="1305.2" y2="217.16" stroke="#000" stroke-width="3" stroke-linecap="butt"/>
<text font-size="20" transform="translate(1296 225.46) scale(0.99 1.08)" font-weight="bold" text-anchor="end">2</text>
<line x1="1296.9" y1="257.7" x2="1305.2" y2="257.7" stroke="#000" stroke-width="3" stroke-linecap="butt"/>
<text font-size="20" transform="translate(1296 266) scale(0.99 1.08)" font-weight="bold" text-anchor="end">0</text>
<line x1="1303.7" y1="261.6" x2="1768" y2="261.6" stroke="#000" stroke-width="3" stroke-linecap="butt"/>
<line x1="1343.1" y1="261.6" x2="1343.1" y2="269.6" stroke="#000" stroke-width="3" stroke-linecap="butt"/>
<line x1="1420.4" y1="261.6" x2="1420.4" y2="269.6" stroke="#000" stroke-width="3" stroke-linecap="butt"/>
<line x1="1497.7" y1="261.6" x2="1497.7" y2="269.6" stroke="#000" stroke-width="3" stroke-linecap="butt"/>
<line x1="1575" y1="261.6" x2="1575" y2="269.6" stroke="#000" stroke-width="3" stroke-linecap="butt"/>
<line x1="1652.3" y1="261.6" x2="1652.3" y2="269.6" stroke="#000" stroke-width="3" stroke-linecap="butt"/>
<line x1="1729.6" y1="261.6" x2="1729.6" y2="269.6" stroke="#000" stroke-width="3" stroke-linecap="butt"/>
<rect x="1416.15" y="95.35" width="8.5" height="8.5" fill="#ea1eff"/>
<rect x="1474.15" y="242.65" width="8.5" height="8.5" fill="#1a00ff"/>
<rect x="1483.85" y="253.35" width="8.5" height="8.5" fill="#1e8c64"/>
<rect x="1493.55" y="253.35" width="8.5" height="8.5" fill="#929292"/>
<rect x="1503.15" y="253.35" width="8.5" height="8.5" fill="#ff9a1a"/>
<rect x="1512.85" y="252.15" width="8.5" height="8.5" fill="#000000"/>
<rect x="1570.55" y="199.05" width="8.5" height="8.5" fill="#1a00ff"/>
<rect x="1552.35" y="250.35" width="8.5" height="8.5" fill="#000000"/>
<rect x="1564.85" y="252.95" width="8.5" height="8.5" fill="#929292"/>
<rect x="1577.05" y="252.95" width="8.5" height="8.5" fill="#1e8c64"/>
<rect x="1589.15" y="249.55" width="8.5" height="8.5" fill="#ff9a1a"/>
<rect x="1628.85" y="253.45" width="8.5" height="8.5" fill="#1a00ff"/>
<rect x="1638.45" y="253.45" width="8.5" height="8.5" fill="#ff9a1a"/>
<rect x="1647.75" y="253.45" width="8.5" height="8.5" fill="#929292"/>
<rect x="1657.85" y="253.45" width="8.5" height="8.5" fill="#000000"/>
<rect x="1667.15" y="253.45" width="8.5" height="8.5" fill="#1e8c64"/>
<rect x="1725.25" y="134.25" width="8.5" height="8.5" fill="#1a00ff"/>
<rect x="1725.25" y="190.45" width="8.5" height="8.5" fill="#000000"/>
<rect x="1725.25" y="206.75" width="8.5" height="8.5" fill="#ff9a1a"/>
<rect x="1725.25" y="226.25" width="8.5" height="8.5" fill="#1e8c64"/>
<rect x="1725.25" y="243.55" width="8.5" height="8.5" fill="#929292"/>
<line x1="1307.7" y1="99.6" x2="1766" y2="99.6" stroke="#000" stroke-width="2.1" stroke-linecap="butt" stroke-dasharray="2 2.1"/>
<line x1="1318" y1="257.4" x2="1368.5" y2="257.4" stroke="#000" stroke-width="3" stroke-linecap="butt"/>
<line x1="1395" y1="99.6" x2="1446" y2="99.6" stroke="#000" stroke-width="2.3" stroke-linecap="butt"/>
<line x1="1472.1" y1="255.4" x2="1523.7" y2="255.4" stroke="#000" stroke-width="2.3" stroke-linecap="butt"/>
<line x1="1549.4" y1="245.5" x2="1600.7" y2="245.5" stroke="#000" stroke-width="2.3" stroke-linecap="butt"/>
<line x1="1626.6" y1="257.2" x2="1677.7" y2="257.2" stroke="#000" stroke-width="2.3" stroke-linecap="butt"/>
<line x1="1703.8" y1="204" x2="1754.9" y2="204" stroke="#000" stroke-width="2.3" stroke-linecap="butt"/>
<rect x="1338.85" y="253.45" width="8.5" height="8.5" fill="#ea1eff"/>
<text x="1332.5" y="72.6" font-size="20" >donor 1</text>
<polyline points="1582.6,83.4 1582.6,78.9 1732.3,78.9 1732.3,83.4" fill="none" stroke="#222" stroke-width="1.6"/>
<text x="1663.7" y="76.1" font-size="20" text-anchor="middle">*</text>
<line x1="1305" y1="298.2" x2="1305" y2="506.9" stroke="#000" stroke-width="3" stroke-linecap="butt"/>
<line x1="1296.7" y1="299.7" x2="1305" y2="299.7" stroke="#000" stroke-width="3" stroke-linecap="butt"/>
<text font-size="20" transform="translate(1296 308) scale(0.99 1.08)" font-weight="bold" text-anchor="end">10</text>
<line x1="1296.7" y1="340.3" x2="1305" y2="340.3" stroke="#000" stroke-width="3" stroke-linecap="butt"/>
<text font-size="20" transform="translate(1296 348.6) scale(0.99 1.08)" font-weight="bold" text-anchor="end">8</text>
<line x1="1296.7" y1="380.9" x2="1305" y2="380.9" stroke="#000" stroke-width="3" stroke-linecap="butt"/>
<text font-size="20" transform="translate(1296 389.2) scale(0.99 1.08)" font-weight="bold" text-anchor="end">6</text>
<line x1="1296.7" y1="421.5" x2="1305" y2="421.5" stroke="#000" stroke-width="3" stroke-linecap="butt"/>
<text font-size="20" transform="translate(1296 429.8) scale(0.99 1.08)" font-weight="bold" text-anchor="end">4</text>
<line x1="1296.7" y1="462.1" x2="1305" y2="462.1" stroke="#000" stroke-width="3" stroke-linecap="butt"/>
<text font-size="20" transform="translate(1296 470.4) scale(0.99 1.08)" font-weight="bold" text-anchor="end">2</text>
<line x1="1296.7" y1="502.7" x2="1305" y2="502.7" stroke="#000" stroke-width="3" stroke-linecap="butt"/>
<text font-size="20" transform="translate(1296 511) scale(0.99 1.08)" font-weight="bold" text-anchor="end">0</text>
<line x1="1303.5" y1="506.9" x2="1768" y2="506.9" stroke="#000" stroke-width="3" stroke-linecap="butt"/>
<line x1="1343.4" y1="506.9" x2="1343.4" y2="514.9" stroke="#000" stroke-width="3" stroke-linecap="butt"/>
<line x1="1420.65" y1="506.9" x2="1420.65" y2="514.9" stroke="#000" stroke-width="3" stroke-linecap="butt"/>
<line x1="1497.9" y1="506.9" x2="1497.9" y2="514.9" stroke="#000" stroke-width="3" stroke-linecap="butt"/>
<line x1="1575.15" y1="506.9" x2="1575.15" y2="514.9" stroke="#000" stroke-width="3" stroke-linecap="butt"/>
<line x1="1652.4" y1="506.9" x2="1652.4" y2="514.9" stroke="#000" stroke-width="3" stroke-linecap="butt"/>
<line x1="1729.65" y1="506.9" x2="1729.65" y2="514.9" stroke="#000" stroke-width="3" stroke-linecap="butt"/>
<circle cx="1420.3" cy="306.5" r="4.2" fill="#ea1eff"/>
<circle cx="1478.1" cy="490" r="4.2" fill="#1a00ff"/>
<circle cx="1488" cy="503" r="4.2" fill="#ff9a1a"/>
<circle cx="1497.6" cy="503" r="4.2" fill="#929292"/>
<circle cx="1507.2" cy="502.5" r="4.2" fill="#000000"/>
<circle cx="1517" cy="503" r="4.2" fill="#1e8c64"/>
<circle cx="1574.8" cy="457.7" r="4.2" fill="#1a00ff"/>
<circle cx="1574.8" cy="488.8" r="4.2" fill="#ff9a1a"/>
<circle cx="1562.6" cy="499.4" r="4.2" fill="#000000"/>
<circle cx="1574.8" cy="502.5" r="4.2" fill="#929292"/>
<circle cx="1587" cy="502.5" r="4.2" fill="#1e8c64"/>
<circle cx="1633.1" cy="503" r="4.2" fill="#1a00ff"/>
<circle cx="1642.7" cy="503" r="4.2" fill="#ff9a1a"/>
<circle cx="1652.3" cy="503" r="4.2" fill="#929292"/>
<circle cx="1661.6" cy="503" r="4.2" fill="#000000"/>
<circle cx="1671.2" cy="503" r="4.2" fill="#1e8c64"/>
<circle cx="1729.5" cy="445" r="4.2" fill="#929292"/>
<circle cx="1741.9" cy="464.1" r="4.2" fill="#1a00ff"/>
<circle cx="1717.1" cy="472.7" r="4.2" fill="#000000"/>
<circle cx="1729.5" cy="475.8" r="4.2" fill="#1e8c64"/>
<circle cx="1729.5" cy="502.5" r="4.2" fill="#ff9a1a"/>
<line x1="1307.5" y1="306.6" x2="1766" y2="306.6" stroke="#000" stroke-width="2.1" stroke-linecap="butt" stroke-dasharray="2 2.1"/>
<line x1="1317.7" y1="502.7" x2="1368.5" y2="502.7" stroke="#000" stroke-width="3" stroke-linecap="butt"/>
<line x1="1395.5" y1="306.5" x2="1445.4" y2="306.5" stroke="#000" stroke-width="2.3" stroke-linecap="butt"/>
<line x1="1472.2" y1="499.9" x2="1523.5" y2="499.9" stroke="#000" stroke-width="2.3" stroke-linecap="butt"/>
<line x1="1549.4" y1="490" x2="1600.5" y2="490" stroke="#000" stroke-width="2.3" stroke-linecap="butt"/>
<line x1="1627.1" y1="502.5" x2="1677.7" y2="502.5" stroke="#000" stroke-width="2.3" stroke-linecap="butt"/>
<line x1="1703.6" y1="471.9" x2="1754.9" y2="471.9" stroke="#000" stroke-width="2.3" stroke-linecap="butt"/>
<circle cx="1343.4" cy="502.7" r="4.2" fill="#ea1eff"/>
<text x="1332.3" y="342.1" font-size="20" >donor 2</text>
<polyline points="1584.4,347.6 1584.4,343.1 1734.7,343.1 1734.7,347.6" fill="none" stroke="#222" stroke-width="1.6"/>
<text x="1662.4" y="338.2" font-size="20.6" text-anchor="middle">ns</text>
<line x1="1304.8" y1="547.3" x2="1304.8" y2="756.4" stroke="#000" stroke-width="3" stroke-linecap="butt"/>
<line x1="1296.5" y1="548.8" x2="1304.8" y2="548.8" stroke="#000" stroke-width="3" stroke-linecap="butt"/>
<text font-size="20" transform="translate(1296 557.1) scale(0.99 1.08)" font-weight="bold" text-anchor="end">10</text>
<line x1="1296.5" y1="589.58" x2="1304.8" y2="589.58" stroke="#000" stroke-width="3" stroke-linecap="butt"/>
<text font-size="20" transform="translate(1296 597.88) scale(0.99 1.08)" font-weight="bold" text-anchor="end">8</text>
<line x1="1296.5" y1="630.36" x2="1304.8" y2="630.36" stroke="#000" stroke-width="3" stroke-linecap="butt"/>
<text font-size="20" transform="translate(1296 638.66) scale(0.99 1.08)" font-weight="bold" text-anchor="end">6</text>
<line x1="1296.5" y1="671.14" x2="1304.8" y2="671.14" stroke="#000" stroke-width="3" stroke-linecap="butt"/>
<text font-size="20" transform="translate(1296 679.44) scale(0.99 1.08)" font-weight="bold" text-anchor="end">4</text>
<line x1="1296.5" y1="711.92" x2="1304.8" y2="711.92" stroke="#000" stroke-width="3" stroke-linecap="butt"/>
<text font-size="20" transform="translate(1296 720.22) scale(0.99 1.08)" font-weight="bold" text-anchor="end">2</text>
<line x1="1296.5" y1="752.7" x2="1304.8" y2="752.7" stroke="#000" stroke-width="3" stroke-linecap="butt"/>
<text font-size="20" transform="translate(1296 761) scale(0.99 1.08)" font-weight="bold" text-anchor="end">0</text>
<line x1="1303.3" y1="756.4" x2="1768" y2="756.4" stroke="#000" stroke-width="3" stroke-linecap="butt"/>
<line x1="1343.5" y1="756.4" x2="1343.5" y2="764.4" stroke="#000" stroke-width="3" stroke-linecap="butt"/>
<line x1="1421.4" y1="756.4" x2="1421.4" y2="764.4" stroke="#000" stroke-width="3" stroke-linecap="butt"/>
<line x1="1499.3" y1="756.4" x2="1499.3" y2="764.4" stroke="#000" stroke-width="3" stroke-linecap="butt"/>
<line x1="1577.2" y1="756.4" x2="1577.2" y2="764.4" stroke="#000" stroke-width="3" stroke-linecap="butt"/>
<line x1="1655.1" y1="756.4" x2="1655.1" y2="764.4" stroke="#000" stroke-width="3" stroke-linecap="butt"/>
<line x1="1733" y1="756.4" x2="1733" y2="764.4" stroke="#000" stroke-width="3" stroke-linecap="butt"/>
<polygon points="1421.6,672.2 1426.3,681 1416.9,681" fill="#ea1eff"/>
<polygon points="1479.9,743.6 1484.6,752.4 1475.2,752.4" fill="#1a00ff"/>
<polygon points="1489.3,749.8 1494,758.6 1484.6,758.6" fill="#ff9a1a"/>
<polygon points="1499,749.8 1503.7,758.6 1494.3,758.6" fill="#929292"/>
<polygon points="1508.9,748.8 1513.6,757.6 1504.2,757.6" fill="#000000"/>
<polygon points="1518.9,749.8 1523.6,758.6 1514.2,758.6" fill="#1e8c64"/>
<polygon points="1577.2,730.6 1581.9,739.4 1572.5,739.4" fill="#1a00ff"/>
<polygon points="1558.6,745.1 1563.3,753.9 1553.9,753.9" fill="#000000"/>
<polygon points="1571,748 1575.7,756.8 1566.3,756.8" fill="#1e8c64"/>
<polygon points="1583.4,746.3 1588.1,755.1 1578.7,755.1" fill="#929292"/>
<polygon points="1595.9,744.3 1600.6,753.1 1591.2,753.1" fill="#ff9a1a"/>
<polygon points="1635.6,749.6 1640.3,758.4 1630.9,758.4" fill="#1a00ff"/>
<polygon points="1645,749.6 1649.7,758.4 1640.3,758.4" fill="#ff9a1a"/>
<polygon points="1655.5,749.6 1660.2,758.4 1650.8,758.4" fill="#929292"/>
<polygon points="1664.9,749.6 1669.6,758.4 1660.2,758.4" fill="#000000"/>
<polygon points="1674.4,749.6 1679.1,758.4 1669.7,758.4" fill="#1e8c64"/>
<polygon points="1733.2,645.5 1737.9,654.3 1728.5,654.3" fill="#929292"/>
<polygon points="1733.2,684.2 1737.9,693 1728.5,693" fill="#1a00ff"/>
<polygon points="1733.2,710.3 1737.9,719.1 1728.5,719.1" fill="#000000"/>
<polygon points="1733.2,731.4 1737.9,740.2 1728.5,740.2" fill="#1e8c64"/>
<polygon points="1733.2,748.8 1737.9,757.6 1728.5,757.6" fill="#ff9a1a"/>
<line x1="1307.3" y1="676.1" x2="1766" y2="676.1" stroke="#000" stroke-width="2.1" stroke-linecap="butt" stroke-dasharray="2 2.1"/>
<line x1="1317.7" y1="752.4" x2="1369.4" y2="752.4" stroke="#000" stroke-width="3" stroke-linecap="butt"/>
<line x1="1396.3" y1="676" x2="1447.4" y2="676" stroke="#000" stroke-width="2.3" stroke-linecap="butt"/>
<line x1="1473.7" y1="751.7" x2="1525.1" y2="751.7" stroke="#000" stroke-width="2.3" stroke-linecap="butt"/>
<line x1="1551.4" y1="747" x2="1603.3" y2="747" stroke="#000" stroke-width="2.3" stroke-linecap="butt"/>
<line x1="1629.4" y1="752.4" x2="1680.6" y2="752.4" stroke="#000" stroke-width="2.3" stroke-linecap="butt"/>
<line x1="1707.1" y1="707.7" x2="1758.8" y2="707.7" stroke="#000" stroke-width="2.3" stroke-linecap="butt"/>
<polygon points="1343.5,748.8 1348.2,757.6 1338.8,757.6" fill="#ea1eff"/>
<text x="1332.1" y="565.9" font-size="20" >donor 3</text>
<polyline points="1582.5,585.5 1582.5,581 1733.7,581 1733.7,585.5" fill="none" stroke="#222" stroke-width="1.6"/>
<text x="1664" y="575.9" font-size="20.6" text-anchor="middle">ns</text>
<text font-size="20" transform="translate(1265 155.4) rotate(-90)" font-weight="bold" text-anchor="middle">p40 [ng/ml]</text>
<text font-size="20" transform="translate(1265 400) rotate(-90)" font-weight="bold" text-anchor="middle">p40 [ng/ml]</text>
<text font-size="20" transform="translate(1265 652) rotate(-90)" font-weight="bold" text-anchor="middle">p40 [ng/ml]</text>
<text x="661" y="786.6" font-size="20" >stimulation</text>
<text x="679.3" y="811.3" font-size="20" >(24 h):</text>
<text font-size="20.4" transform="translate(796.2 765) rotate(-90)" text-anchor="end">vehicle</text>
<text font-size="20.4" transform="translate(873.45 765) rotate(-90)" text-anchor="end">LPS+IFNγ</text>
<text font-size="20.4" transform="translate(950.7 765) rotate(-90)" text-anchor="end">vehicle</text>
<text font-size="20.4" transform="translate(1027.95 765) rotate(-90)" text-anchor="end">LPS+IFNγ</text>
<text font-size="20.4" transform="translate(1105.2 765) rotate(-90)" text-anchor="end">vehicle</text>
<text font-size="20.4" transform="translate(1182.45 765) rotate(-90)" text-anchor="end">LPS+IFNγ</text>
<polyline points="783.6,868 783.6,872.8 881.1,872.8 881.1,868" fill="none" stroke="#222" stroke-width="1.6"/>
<polyline points="936.7,868 936.7,872.8 1033.5,872.8 1033.5,868" fill="none" stroke="#222" stroke-width="1.6"/>
<polyline points="1089.6,868 1089.6,872.8 1187.1,872.8 1187.1,868" fill="none" stroke="#222" stroke-width="1.6"/>
<text x="839.4" y="899.7" font-size="20" text-anchor="middle">12 d R5</text>
<text x="984.4" y="899.7" font-size="20" text-anchor="middle">12 d ascites</text>
<text x="1132.7" y="899.7" font-size="20" text-anchor="middle">6 d ascites</text>
<text x="1132.7" y="923.6" font-size="20" text-anchor="middle">+ 6 d R5</text>
<text x="1235.6" y="787.2" font-size="20" >stimulation</text>
<text x="1253.9" y="811.3" font-size="20" >(24 h):</text>
<text font-size="20.4" transform="translate(1350.9 765) rotate(-90)" text-anchor="end">vehicle</text>
<text font-size="20.4" transform="translate(1428.8 765) rotate(-90)" text-anchor="end">LPS+IFNγ</text>
<text font-size="20.4" transform="translate(1506.7 765) rotate(-90)" text-anchor="end">vehicle</text>
<text font-size="20.4" transform="translate(1584.6 765) rotate(-90)" text-anchor="end">LPS+IFNγ</text>
<text font-size="20.4" transform="translate(1662.5 765) rotate(-90)" text-anchor="end">vehicle</text>
<text font-size="20.4" transform="translate(1740.4 765) rotate(-90)" text-anchor="end">LPS+IFNγ</text>
<polyline points="1338.5,868 1338.5,872.8 1436.5,872.8 1436.5,868" fill="none" stroke="#222" stroke-width="1.6"/>
<polyline points="1492.1,868 1492.1,872.8 1590.5,872.8 1590.5,868" fill="none" stroke="#222" stroke-width="1.6"/>
<polyline points="1646.7,868 1646.7,872.8 1744.7,872.8 1744.7,868" fill="none" stroke="#222" stroke-width="1.6"/>
<text x="1394.8" y="900.9" font-size="20" text-anchor="middle">12 d R5</text>
<text x="1540.7" y="900.9" font-size="20" text-anchor="middle">12 d ascites</text>
<text x="1690.1" y="900.9" font-size="20" text-anchor="middle">6 d ascites</text>
<text x="1690.1" y="924.8" font-size="20" text-anchor="middle">+ 6 d R5</text>
</svg>
</body></html>
